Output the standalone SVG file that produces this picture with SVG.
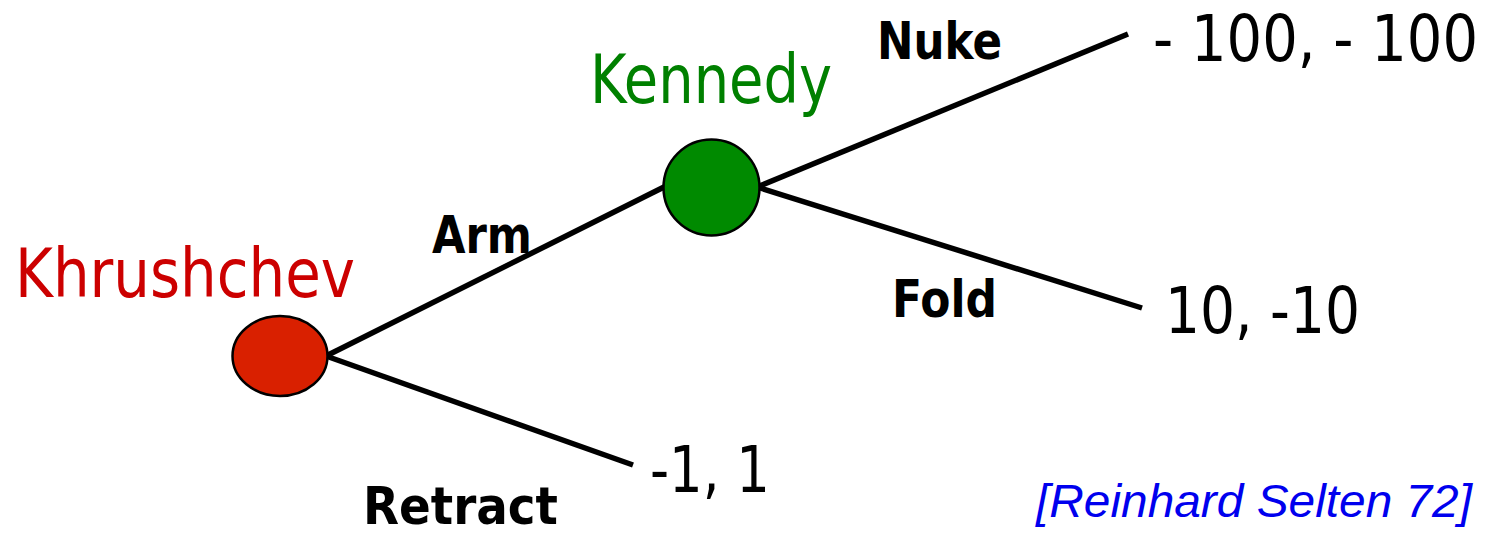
<svg xmlns="http://www.w3.org/2000/svg" width="1495" height="533" viewBox="0 0 1495 533">
<style>
.edge{stroke:#000;stroke-width:5.5;fill:none;stroke-linecap:butt}
.lbl{font-family:"DejaVu Sans","Noto Sans",sans-serif;font-weight:bold;font-size:52px;fill:#000}
.pay{font-family:"DejaVu Sans","Noto Sans",sans-serif;font-size:64px;fill:#000}
.name{font-family:"DejaVu Sans","Noto Sans",sans-serif;font-size:67px}
.node{stroke:#000;stroke-width:2.5}
</style>
<rect width="1495" height="533" fill="#fff"/>
<g id="connectors">
<line class="edge" x1="326" y1="356" x2="666" y2="186"/>
<line class="edge" x1="326" y1="356" x2="633" y2="465"/>
<line class="edge" x1="757" y1="187" x2="1128" y2="34"/>
<line class="edge" x1="757" y1="187" x2="1142" y2="308"/>
</g>
<g id="khrushchev">
<ellipse class="node" cx="280" cy="356" rx="47.5" ry="40" fill="#d92000"/>
<text class="name" x="15" y="297" fill="#cc0000" textLength="340" lengthAdjust="spacingAndGlyphs">Khrushchev</text>
</g>
<g id="kennedy">
<circle class="node" cx="711.5" cy="187.5" r="48" fill="#008a00"/>
<text class="name" x="590" y="103" fill="#008000" textLength="242" lengthAdjust="spacingAndGlyphs">Kennedy</text>
</g>
<g id="labels">
<text class="lbl" x="877" y="59" textLength="125" lengthAdjust="spacingAndGlyphs">Nuke</text>
<text class="lbl" x="432" y="253" textLength="100" lengthAdjust="spacingAndGlyphs">Arm</text>
<text class="lbl" x="892" y="317" textLength="105" lengthAdjust="spacingAndGlyphs">Fold</text>
<text class="lbl" x="363" y="524" font-size="45" textLength="195" lengthAdjust="spacingAndGlyphs">Retract</text>
</g>
<g id="payoffs">
<text class="pay" x="1153" y="61" font-size="62" textLength="325" lengthAdjust="spacingAndGlyphs">- 100, - 100</text>
<text class="pay" x="1165" y="333" textLength="195" lengthAdjust="spacingAndGlyphs">10, -10</text>
<text class="pay" x="650" y="492" textLength="120" lengthAdjust="spacingAndGlyphs">-1, 1</text>
</g>
<text id="citation" x="1036" y="517" font-family="Liberation Sans, Arial, sans-serif" font-style="italic" font-size="47" fill="#0000ee" textLength="436" lengthAdjust="spacingAndGlyphs">[Reinhard Selten 72]</text>
</svg>
